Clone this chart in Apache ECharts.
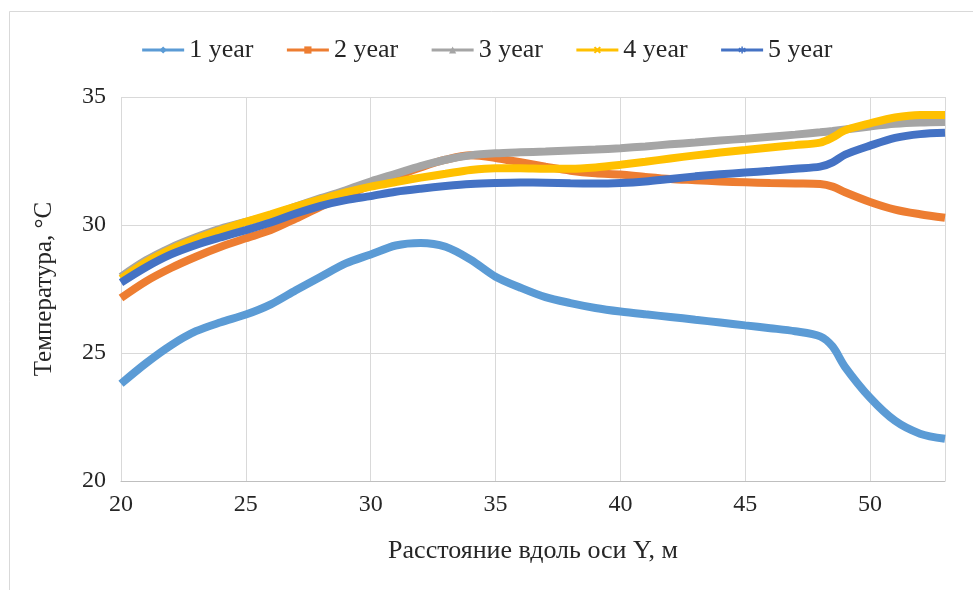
<!DOCTYPE html>
<html>
<head>
<meta charset="utf-8">
<script src="https://cdn.jsdelivr.net/npm/echarts@6/dist/echarts.min.js"></script>
<style>
  html, body { margin: 0; padding: 0; background: #fff; }
  #chart { width: 973px; height: 590px; }
</style>
</head>
<body>
<div id="chart"></div>
<script>
// Distance along the Y axis, m
const distance = [20, 21, 22, 23, 24, 25, 26, 27, 28, 29, 30, 31, 32, 33, 34, 35, 36, 37, 38, 39,
                  40, 41, 42, 43, 44, 45, 46, 47, 48, 48.5, 49, 50, 51, 52, 53];

// Temperature, °C, for each year of operation
const year1 = [23.8, 24.6, 25.3, 25.85, 26.2, 26.5, 26.9, 27.45, 27.98, 28.5, 28.85, 29.2, 29.3, 29.15, 28.65,
               27.98, 27.55, 27.18, 26.95, 26.76, 26.62, 26.51, 26.41, 26.3, 26.19, 26.08, 25.97, 25.85, 25.65,
               25.25, 24.45, 23.25, 22.35, 21.85, 21.65];
const year2 = [27.15, 27.8, 28.32, 28.76, 29.15, 29.48, 29.8, 30.25, 30.72, 31.15, 31.55, 31.9, 32.25, 32.55, 32.72,
               32.62, 32.45, 32.28, 32.12, 32.02, 31.97, 31.88, 31.8, 31.75, 31.7, 31.67, 31.64, 31.62, 31.6,
               31.5, 31.28, 30.9, 30.6, 30.42, 30.28];
const year3 = [27.98, 28.62, 29.12, 29.52, 29.86, 30.12, 30.38, 30.72, 31.05, 31.36, 31.7, 32.0, 32.3, 32.55, 32.72,
               32.8, 32.84, 32.87, 32.91, 32.95, 33.0, 33.07, 33.15, 33.22, 33.3, 33.37, 33.45, 33.53, 33.62,
               33.67, 33.73, 33.85, 33.95, 34.0, 34.02];
const year4 = [27.9, 28.55, 29.05, 29.45, 29.8, 30.12, 30.42, 30.72, 31.0, 31.27, 31.5, 31.68, 31.85, 32.0, 32.15,
               32.22, 32.22, 32.2, 32.2, 32.25, 32.35, 32.47, 32.6, 32.72, 32.83, 32.93, 33.03, 33.12, 33.22,
               33.42, 33.7, 33.97, 34.2, 34.3, 34.3];
const year5 = [27.75, 28.35, 28.85, 29.22, 29.52, 29.8, 30.1, 30.45, 30.75, 30.97, 31.13, 31.3, 31.42, 31.52, 31.6,
               31.64, 31.66, 31.65, 31.63, 31.62, 31.64, 31.7, 31.8, 31.9, 31.98, 32.05, 32.12, 32.2, 32.28,
               32.45, 32.75, 33.1, 33.4, 33.55, 33.6];

const seriesNames = ['1 year', '2 year', '3 year', '4 year', '5 year'];
const seriesValues = [year1, year2, year3, year4, year5];
const seriesColors = ['#5B9BD5', '#ED7D31', '#A5A5A5', '#FFC000', '#4472C4'];
const seriesMarkers = [
  'diamond',
  'rect',
  'triangle',
  'path://M2,0L5,3L8,0L10,2L7,5L10,8L8,10L5,7L2,10L0,8L3,5L0,2Z',
  'path://M4,0H6V3.3L8.9,1.6L9.9,3.4L7,5L9.9,6.6L8.9,8.4L6,6.7V10H4V6.7L1.1,8.4L0.1,6.6L3,5L0.1,3.4L1.1,1.6L4,3.3Z'
];

const xTicks = { min: 20, max: 53, step: 5 };
const yTicks = { min: 20, max: 35, step: 5 };

const FONT = '"Liberation Serif", "Times New Roman", serif';
const TEXT = '#262626';

const chart = echarts.init(document.getElementById('chart'), null, { renderer: 'canvas' });

const series = seriesNames.map((name, i) => ({
  name,
  type: 'line',
  data: distance.map((x, j) => [x, seriesValues[i][j]]),
  color: seriesColors[i],
  symbol: seriesMarkers[i],
  showSymbol: false,
  smooth: 0.3,
  lineStyle: { width: 8, color: seriesColors[i] },
  itemStyle: { color: seriesColors[i] },
  emphasis: { disabled: true },
  animation: false
}));

chart.setOption({
  backgroundColor: '#ffffff',
  animation: false,
  graphic: [{
    type: 'rect',
    shape: { x: 9.5, y: 11.5, width: 1000, height: 1000 },
    style: { fill: 'none', stroke: '#D9D9D9', lineWidth: 1 },
    silent: true
  }],
  legend: {
    top: 32,
    left: 'center',
    itemGap: 32,
    itemWidth: 42,
    itemHeight: 9,
    textStyle: { fontFamily: FONT, fontSize: 26, color: TEXT },
    lineStyle: { width: 3 },
    data: seriesNames
  },
  grid: { left: 121, right: 28, top: 97, bottom: 109, containLabel: false },
  xAxis: {
    type: 'value',
    min: xTicks.min,
    max: xTicks.max,
    interval: xTicks.step,
    name: 'Расстояние вдоль оси Y, м',
    nameLocation: 'middle',
    nameGap: 57,
    nameTextStyle: { fontFamily: FONT, fontSize: 26, color: TEXT },
    axisLine: { show: true, lineStyle: { color: '#BFBFBF', width: 1 } },
    axisTick: { show: false },
    axisLabel: { fontFamily: FONT, fontSize: 24, color: TEXT, margin: 12, showMaxLabel: false },
    splitLine: { show: true, lineStyle: { color: '#D9D9D9', width: 1 } }
  },
  yAxis: {
    type: 'value',
    min: yTicks.min,
    max: yTicks.max,
    interval: yTicks.step,
    name: 'Температура, °С',
    nameLocation: 'middle',
    nameGap: 64,
    nameTextStyle: { fontFamily: FONT, fontSize: 25, color: TEXT },
    axisLine: { show: false },
    axisTick: { show: false },
    axisLabel: { fontFamily: FONT, fontSize: 24, color: TEXT, margin: 15 },
    splitLine: { show: true, lineStyle: { color: '#D9D9D9', width: 1 } }
  },
  series
});
</script>
</body>
</html>
